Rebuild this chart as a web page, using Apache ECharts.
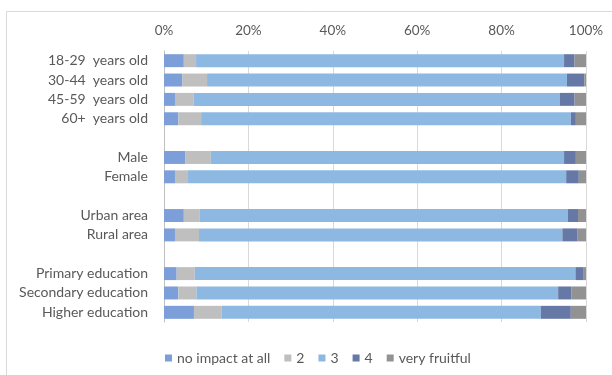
<!DOCTYPE html>
<html>
<head>
<meta charset="utf-8">
<script src="https://cdn.jsdelivr.net/npm/echarts@6/dist/echarts.min.js"></script>
<style>
  html, body { margin: 0; padding: 0; background: #fff; }
  #chart { width: 612px; height: 375px; }
</style>
</head>
<body>
<div id="chart"></div>
<script>
// categories, blank entries make the gaps between groups
var categories = [
  '18-29  years old', '30-44  years old', '45-59  years old', '60+  years old', ' ',
  'Male', 'Female', '  ',
  'Urban area', 'Rural area', '   ',
  'Primary education', 'Secondary education', 'Higher education'
];
var seriesNames = ['no impact at all', '2', '3', '4', 'very fruitful'];

// percentages ('-' = empty gap row)
var noImpact   = [4.7, 4.3, 2.6, 3.4, '-', 5.0, 2.6, '-', 4.7, 2.6, '-', 3.0, 3.4, 7.1];
var two        = [2.9, 5.9, 4.4, 5.4, '-', 6.1, 3.1, '-', 3.8, 5.7, '-', 4.3, 4.3, 6.6];
var three      = [87.2, 85.3, 86.8, 87.6, '-', 83.7, 89.6, '-', 87.2, 86.1, '-', 90.2, 85.7, 75.6];
var four       = [2.5, 4.1, 3.5, 1.2, '-', 2.8, 3.0, '-', 2.4, 3.5, '-', 1.8, 3.1, 7.1];
var veryFruit  = [2.7, 0.4, 2.7, 2.4, '-', 2.4, 1.7, '-', 1.9, 2.1, '-', 0.7, 3.5, 3.6];

var colors = ['#7c9fd9', '#bfbfbf', '#8db8e2', '#6679a6', '#929292'];
var values = [noImpact, two, three, four, veryFruit];

var txt = '#595959';
var font = 'Lato';

var series = seriesNames.map(function (name, i) {
  return {
    name: name,
    type: 'bar',
    stack: 'total',
    barCategoryGap: '33%',
    itemStyle: { color: colors[i] },
    emphasis: { disabled: true },
    data: values[i]
  };
});

var chart = echarts.init(document.getElementById('chart'));
chart.setOption({
  animation: false,
  textStyle: { fontFamily: font },
  graphic: [{
    type: 'rect',
    shape: { x: 6.5, y: 11.5, width: 800, height: 600 },
    style: { fill: 'none', stroke: '#d9d9d9', lineWidth: 1 },
    silent: true
  }],
  grid: { left: 164, right: 26, top: 51, bottom: 53 },
  legend: {
    left: 160,
    top: 346,
    itemWidth: 7,
    itemHeight: 7,
    itemGap: 14,
    icon: 'rect',
    textStyle: { color: txt, fontSize: 14, fontFamily: font },
    data: seriesNames
  },
  xAxis: {
    type: 'value',
    position: 'top',
    min: 0,
    max: 100,
    interval: 20,
    axisLine: { show: false },
    axisTick: { show: false },
    axisLabel: { formatter: '{value}%', color: txt, fontSize: 13.5, margin: 13, fontFamily: font },
    splitLine: { lineStyle: { color: '#d9d9d9', width: 1 } }
  },
  yAxis: {
    type: 'category',
    inverse: true,
    data: categories,
    axisLine: { show: true, lineStyle: { color: '#bfbfbf' } },
    axisTick: { show: false },
    axisLabel: { color: txt, fontSize: 14, margin: 16, fontFamily: font, interval: 0 }
  },
  series: series
});
</script>
</body>
</html>
